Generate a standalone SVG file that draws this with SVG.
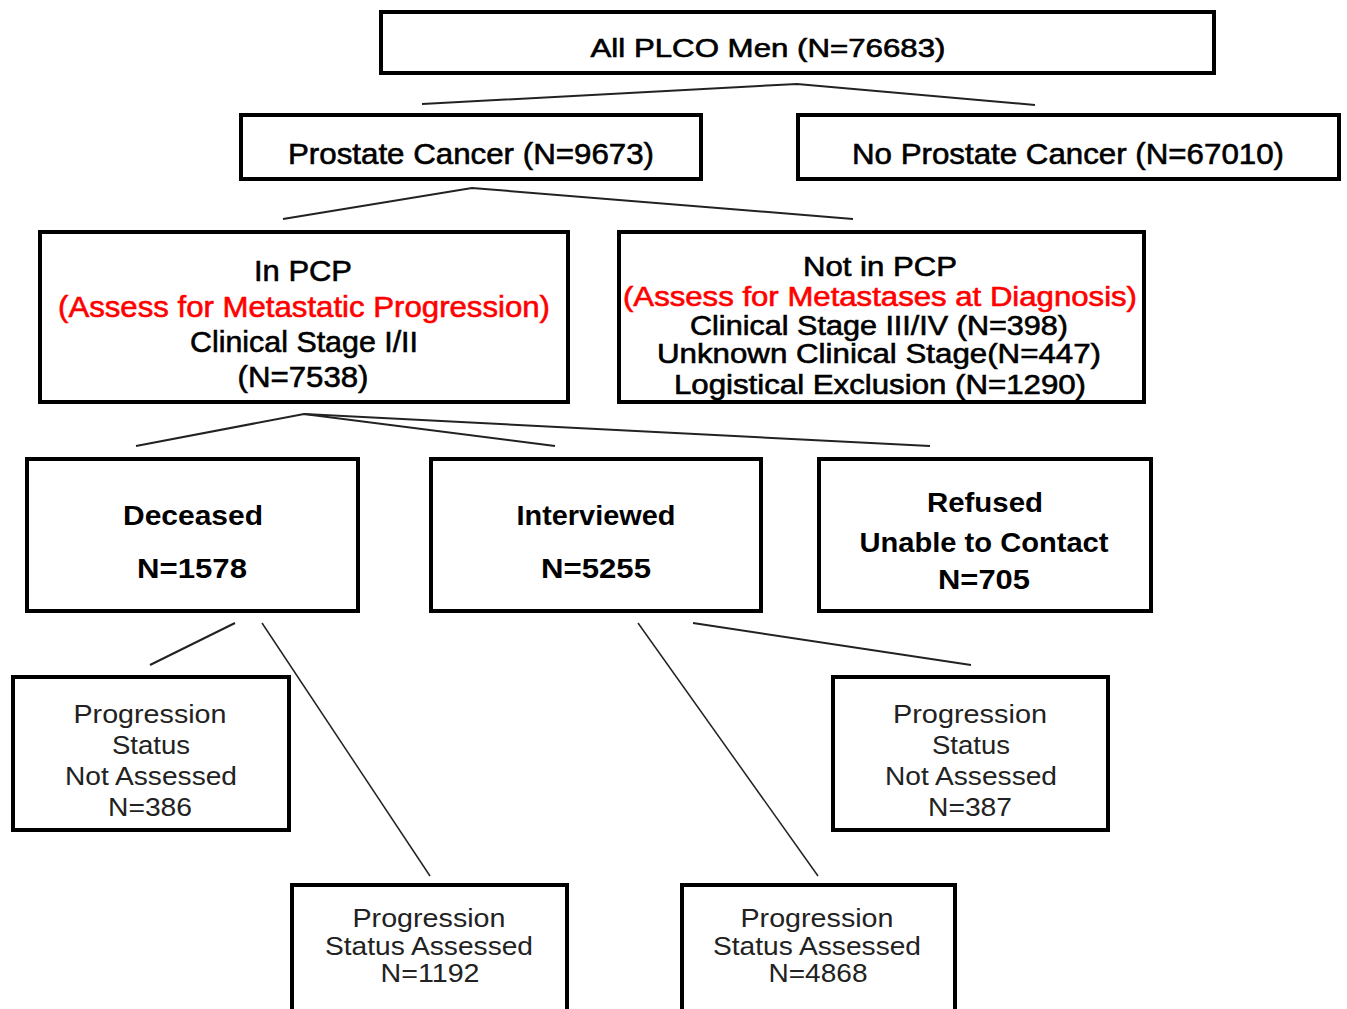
<svg xmlns="http://www.w3.org/2000/svg" width="1347" height="1009" viewBox="0 0 1347 1009">
<style>
.box{fill:#fff;stroke:#000;stroke-width:4}
.t{font-family:"Liberation Sans",Arial,sans-serif;font-size:30px;fill:#000;stroke:#000;stroke-width:0.6;text-anchor:middle}
.red{fill:#ff0000;stroke:#ff0000}
.s{font-size:27px}
.b{font-size:27px;font-weight:bold;stroke-width:0}
.p{font-size:25px;fill:#222;stroke-width:0}
.c{fill:none;stroke:#222;stroke-width:2}
.c2{fill:none;stroke:#222;stroke-width:1.5}
</style>
<rect width="1347" height="1009" fill="#fff"/>
<g id="connectors">
<polyline class="c" points="422,104 797,84 1035,105"/>
<polyline class="c" points="283,219 472,188 853,219"/>
<polyline class="c" points="136,446 304,414 555,446"/>
<polyline class="c" points="304,414 930,446"/>
<line class="c" x1="235" y1="623" x2="150" y2="665"/>
<line class="c2" x1="262" y1="623" x2="430" y2="876"/>
<line class="c2" x1="638" y1="623" x2="818" y2="876"/>
<line class="c" x1="693" y1="623" x2="971" y2="665"/>
</g>
<g id="all">
<rect class="box" x="381" y="12" width="833" height="61"/>
<text class="t" x="768" y="57" style="font-size:25px" textLength="355" lengthAdjust="spacingAndGlyphs">All PLCO Men (N=76683)</text>
</g>
<g id="pc">
<rect class="box" x="241" y="115" width="460" height="64"/>
<text class="t" x="471" y="164" textLength="366" lengthAdjust="spacingAndGlyphs">Prostate Cancer (N=9673)</text>
</g>
<g id="npc">
<rect class="box" x="798" y="115" width="541" height="64"/>
<text class="t" x="1068" y="164" textLength="432" lengthAdjust="spacingAndGlyphs">No Prostate Cancer (N=67010)</text>
</g>
<g id="inpcp">
<rect class="box" x="40" y="232" width="528" height="170"/>
<text class="t" x="303" y="281" textLength="98" lengthAdjust="spacingAndGlyphs">In PCP</text>
<text class="t red" x="304" y="317" textLength="492" lengthAdjust="spacingAndGlyphs">(Assess for Metastatic Progression)</text>
<text class="t" x="304" y="352" textLength="228" lengthAdjust="spacingAndGlyphs">Clinical Stage I/II</text>
<text class="t" x="303" y="387" textLength="131" lengthAdjust="spacingAndGlyphs">(N=7538)</text>
</g>
<g id="notinpcp">
<rect class="box" x="619" y="232" width="525" height="170"/>
<text class="t s" x="880" y="276" textLength="154" lengthAdjust="spacingAndGlyphs">Not in PCP</text>
<text class="t s red" x="880" y="306" textLength="514" lengthAdjust="spacingAndGlyphs">(Assess for Metastases at Diagnosis)</text>
<text class="t s" x="879" y="335" textLength="378" lengthAdjust="spacingAndGlyphs">Clinical Stage III/IV (N=398)</text>
<text class="t s" x="879" y="363" textLength="444" lengthAdjust="spacingAndGlyphs">Unknown Clinical Stage(N=447)</text>
<text class="t s" x="880" y="394" textLength="412" lengthAdjust="spacingAndGlyphs">Logistical Exclusion (N=1290)</text>
</g>
<g id="deceased">
<rect class="box" x="27" y="459" width="331" height="152"/>
<text class="t b" x="193" y="525" textLength="140" lengthAdjust="spacingAndGlyphs">Deceased</text>
<text class="t b" x="192" y="578" textLength="110" lengthAdjust="spacingAndGlyphs">N=1578</text>
</g>
<g id="interviewed">
<rect class="box" x="431" y="459" width="330" height="152"/>
<text class="t b" x="596" y="525" textLength="159" lengthAdjust="spacingAndGlyphs">Interviewed</text>
<text class="t b" x="596" y="578" textLength="110" lengthAdjust="spacingAndGlyphs">N=5255</text>
</g>
<g id="refused">
<rect class="box" x="819" y="459" width="332" height="152"/>
<text class="t b" x="985" y="512" textLength="116" lengthAdjust="spacingAndGlyphs">Refused</text>
<text class="t b" x="984" y="552" textLength="249" lengthAdjust="spacingAndGlyphs">Unable to Contact</text>
<text class="t b" x="984" y="589" textLength="92" lengthAdjust="spacingAndGlyphs">N=705</text>
</g>
<g id="dec-na">
<rect class="box" x="13" y="677" width="276" height="153"/>
<text class="t p" x="150" y="723" textLength="153" lengthAdjust="spacingAndGlyphs">Progression</text>
<text class="t p" x="151" y="754" textLength="78" lengthAdjust="spacingAndGlyphs">Status</text>
<text class="t p" x="151" y="785" textLength="172" lengthAdjust="spacingAndGlyphs">Not Assessed</text>
<text class="t p" x="150" y="816" textLength="84" lengthAdjust="spacingAndGlyphs">N=386</text>
</g>
<g id="int-na">
<rect class="box" x="833" y="677" width="275" height="153"/>
<text class="t p" x="970" y="723" textLength="154" lengthAdjust="spacingAndGlyphs">Progression</text>
<text class="t p" x="971" y="754" textLength="78" lengthAdjust="spacingAndGlyphs">Status</text>
<text class="t p" x="971" y="785" textLength="172" lengthAdjust="spacingAndGlyphs">Not Assessed</text>
<text class="t p" x="970" y="816" textLength="84" lengthAdjust="spacingAndGlyphs">N=387</text>
</g>
<g id="dec-a">
<rect class="box" x="292" y="885" width="275" height="140"/>
<text class="t p" x="429" y="927" textLength="153" lengthAdjust="spacingAndGlyphs">Progression</text>
<text class="t p" x="429" y="955" textLength="208" lengthAdjust="spacingAndGlyphs">Status Assessed</text>
<text class="t p" x="430" y="982" textLength="99" lengthAdjust="spacingAndGlyphs">N=1192</text>
</g>
<g id="int-a">
<rect class="box" x="682" y="885" width="273" height="140"/>
<text class="t p" x="817" y="927" textLength="153" lengthAdjust="spacingAndGlyphs">Progression</text>
<text class="t p" x="817" y="955" textLength="208" lengthAdjust="spacingAndGlyphs">Status Assessed</text>
<text class="t p" x="818" y="982" textLength="99" lengthAdjust="spacingAndGlyphs">N=4868</text>
</g>
</svg>
